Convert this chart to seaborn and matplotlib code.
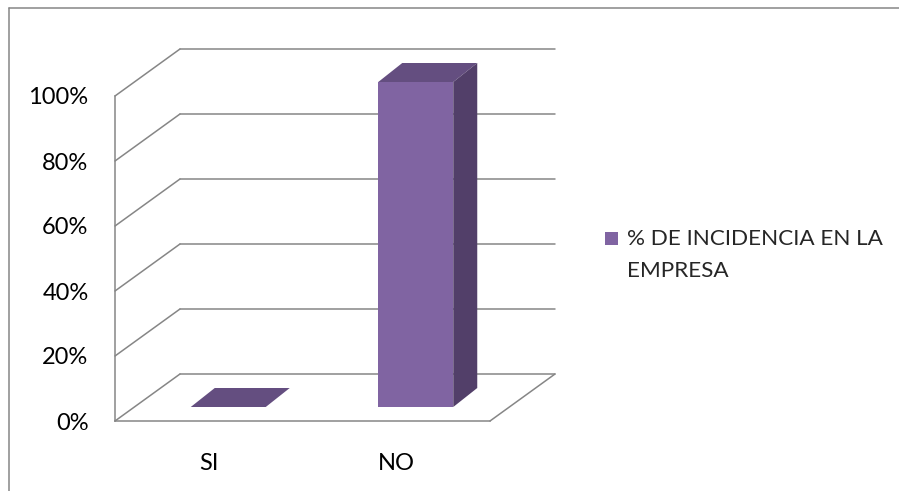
import matplotlib
matplotlib.use("Agg")
import matplotlib.pyplot as plt
import matplotlib.transforms as mtransforms
from matplotlib.patches import Polygon, Rectangle
from matplotlib.lines import Line2D
import seaborn as sns
import pandas as pd

# Data
categories = ["SI", "NO"]
values = [0, 100]
series_lines = ["% DE INCIDENCIA EN LA", "EMPRESA"]
y_ticks = [0, 20, 40, 60, 80, 100]

# Style
sns.set_style("white")
plt.rcParams["font.family"] = ["Lato", "DejaVu Sans"]
GRID = "#868686"
FRONT = "#8064A2"
TOP = "#644E80"
SIDE = "#523F69"
FS = 17
LEG_FS = 16.2

DPI = 100
fig = plt.figure(figsize=(8.99, 4.91), dpi=DPI)
W, H = 899, 491

# front plane of the 3D box (pixel geometry of the plot area)
left, right, bottom, top = 115, 490, 421, 96
ax = fig.add_axes([left / W, (H - bottom) / H, (right - left) / W, (bottom - top) / H])

df = pd.DataFrame({"cat": categories, "val": values})
sns.barplot(data=df, x="cat", y="val", width=0.4, color=FRONT, saturation=1,
            ax=ax, zorder=5)
ax.set_xlim(-0.5, 1.5)
ax.set_ylim(0, 100)
ax.set_xlabel("")
ax.set_ylabel("")

# depth offsets (display pixels, y up)
DEPTH = (65, 47)
BAR_FRONT = (19.5, 14)
BAR_DEPTH = (24, 19)

def shift(dx, dy):
    return mtransforms.ScaledTranslation(dx / DPI, dy / DPI, fig.dpi_scale_trans)

ident = mtransforms.IdentityTransform()
x0, x1 = ax.get_xlim()

# back wall gridlines and left wall diagonals
for yv in y_ticks:
    ax.add_line(Line2D([x0, x1], [yv, yv], color=GRID, lw=1.1,
                       transform=ax.transData + shift(*DEPTH), clip_on=False, zorder=1))
    p = ax.transData.transform((x0, yv))
    ax.add_line(Line2D([p[0], p[0] + DEPTH[0]], [p[1], p[1] + DEPTH[1]], color=GRID,
                       lw=1.1, transform=ident, clip_on=False, zorder=1))
# right floor edge
p = ax.transData.transform((x1, 0))
ax.add_line(Line2D([p[0], p[0] + DEPTH[0]], [p[1], p[1] + DEPTH[1]], color=GRID,
                   lw=1.1, transform=ident, clip_on=False, zorder=1))

# bars: shift front faces into the box and add top / side faces
for patch in ax.patches:
    patch.set_transform(ax.transData + shift(*BAR_FRONT))
    patch.set_clip_on(False)
    patch.set_edgecolor("none")
    bx, by = patch.get_x(), patch.get_y()
    bw, bh = patch.get_width(), patch.get_height()
    (ax0, ay0) = ax.transData.transform((bx, by + bh))
    (ax1, _) = ax.transData.transform((bx + bw, by + bh))
    (_, ay_base) = ax.transData.transform((bx, by))
    fx, fy = BAR_FRONT
    ddx, ddy = BAR_DEPTH
    top_face = [(ax0 + fx, ay0 + fy), (ax1 + fx, ay0 + fy),
                (ax1 + fx + ddx, ay0 + fy + ddy), (ax0 + fx + ddx, ay0 + fy + ddy)]
    ax.add_patch(Polygon(top_face, closed=True, facecolor=TOP, edgecolor="none",
                         transform=ident, clip_on=False, zorder=6))
    if bh > 0:
        side_face = [(ax1 + fx, ay_base + fy), (ax1 + fx, ay0 + fy),
                     (ax1 + fx + ddx, ay0 + fy + ddy), (ax1 + fx + ddx, ay_base + fy + ddy)]
        ax.add_patch(Polygon(side_face, closed=True, facecolor=SIDE, edgecolor="none",
                             transform=ident, clip_on=False, zorder=6))

# axes, ticks and labels
for s in ["top", "right"]:
    ax.spines[s].set_visible(False)
for s in ["left", "bottom"]:
    ax.spines[s].set_color(GRID)
    ax.spines[s].set_linewidth(1.1)
    ax.spines[s].set_zorder(2)

ax.set_yticks(y_ticks)
ax.set_yticklabels([f"{v}%" for v in y_ticks])
ax.tick_params(axis="y", length=5, width=1.1, color=GRID, pad=14, labelsize=FS,
               labelcolor="black")
ax.set_xticks([0, 1])
ax.set_xticklabels(categories)
ax.set_xticks([-0.5, 0.5, 1.5], minor=True)
ax.tick_params(axis="x", which="major", length=0, pad=23, labelsize=FS, labelcolor="black")
ax.tick_params(axis="x", which="minor", length=5, width=1.1, color=GRID)
ax.grid(False)

# legend
fig.patches.append(Rectangle((605 / W, 1 - 245 / H), 13 / W, 13 / H, facecolor=FRONT,
                             edgecolor="none", transform=fig.transFigure))
for i, line in enumerate(series_lines):
    fig.text(627 / W, 1 - (239 + 32 * i) / H, line, fontsize=LEG_FS, va="center",
             ha="left", transform=fig.transFigure)

# chart frame
fig.add_artist(Line2D([9 / W, 1], [1 - 8 / H, 1 - 8 / H], color=GRID, lw=1.1,
                      transform=fig.transFigure))
fig.add_artist(Line2D([9 / W, 9 / W], [1 - 8 / H, 0], color=GRID, lw=1.1,
                      transform=fig.transFigure))

fig.savefig("out.png", dpi=DPI, facecolor="white")
